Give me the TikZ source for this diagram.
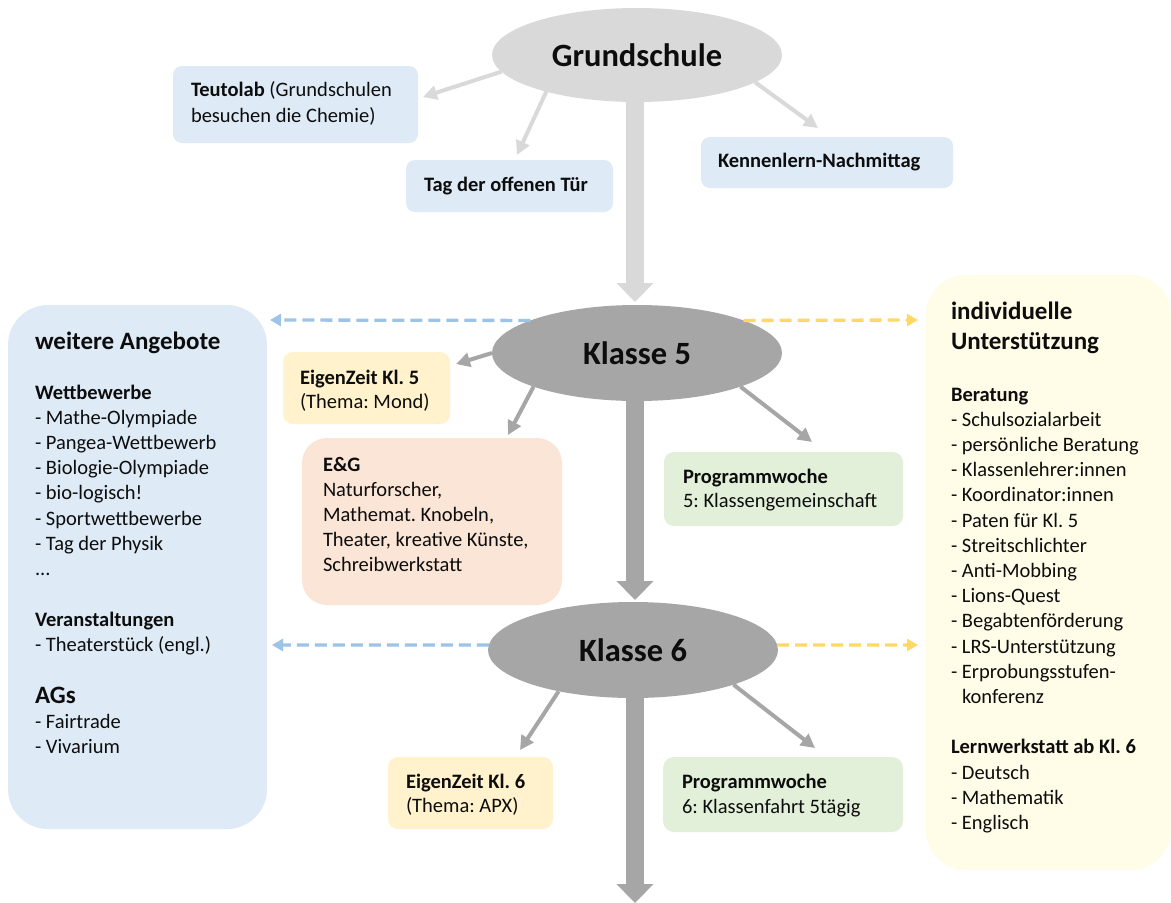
\documentclass[tikz,border=0pt]{standalone}
\usepackage{fontspec}
\setmainfont{Carlito}
\usetikzlibrary{shapes.geometric,arrows.meta,backgrounds}
\definecolor{lgray}{HTML}{D9D9D9}
\definecolor{dgray}{HTML}{A6A6A6}
\definecolor{lblue}{HTML}{DEEBF7}
\definecolor{lyellow}{HTML}{FFF2CC}
\definecolor{lorange}{HTML}{FBE5D6}
\definecolor{lgreen}{HTML}{E2F0D9}
\definecolor{cream}{HTML}{FFFDE8}
\definecolor{dblue}{HTML}{9DC3E6}
\definecolor{dyellow}{HTML}{FFD966}
\definecolor{txt}{HTML}{0D0D0D}
\begin{document}
\frenchspacing
\begin{tikzpicture}[x=1pt,y=-1pt,
  every node/.style={inner sep=0pt,outer sep=0pt,text=txt},
  bubble/.style={ellipse,fill=#1,minimum width=290pt,minimum height=96pt,font=\fontsize{32.5}{38}\selectfont\bfseries},
  card/.style={rectangle,fill=#1},
  ln/.style={anchor=base west,font=\fontsize{20.5}{24}\selectfont},
  lnb/.style={anchor=base west,font=\fontsize{20.5}{24}\selectfont\bfseries},
  hd/.style={anchor=base west,font=\fontsize{25}{29}\selectfont\bfseries},
  thinarrow/.style={draw=#1,line width=4pt,-{Triangle[length=14pt,width=14pt]}},
  dasharrow/.style={draw=#1,line width=3.3pt,dash pattern=on 12pt off 6pt,-{Triangle[length=11pt,width=12pt]}},
  bigarrow/.style={draw=#1,line width=18pt,-{Triangle[length=19pt,width=36pt]}}
]
\useasboundingbox (0,0) rectangle (1171,903);

% ellipses
\node[bubble=lgray,minimum height=94pt] (gs) at (637,55) {Grundschule};
\node[bubble=dgray] (k5) at (637,353) {Klasse 5};
\node[bubble=dgray] (k6) at (633,650) {Klasse 6};

% boxes
\node[card=lblue,rounded corners=9pt,minimum width=245pt,minimum height=77pt] (teuto) at (295.5,104.5) {};
\node[card=lblue,rounded corners=9pt,minimum width=207pt,minimum height=52pt] (tag) at (509.5,186) {};
\node[card=lblue,rounded corners=9pt,minimum width=252pt,minimum height=51pt] (kenn) at (827,162.5) {};
\node[card=lyellow,rounded corners=10pt,minimum width=167pt,minimum height=72pt] (ez5) at (366.5,388) {};
\node[card=lorange,rounded corners=25pt,minimum width=260pt,minimum height=167pt] (eg) at (432,521.5) {};
\node[card=lgreen,rounded corners=10pt,minimum width=239pt,minimum height=74pt] (pw5) at (783.5,489) {};
\node[card=lyellow,rounded corners=10pt,minimum width=165pt,minimum height=72pt] (ez6) at (470.5,793) {};
\node[card=lgreen,rounded corners=11pt,minimum width=240pt,minimum height=75pt] (pw6) at (783,794.5) {};
\node[card=lblue,rounded corners=40pt,minimum width=259pt,minimum height=524pt] (left) at (137.5,567) {};
\node[card=cream,rounded corners=40pt,minimum width=245pt,minimum height=595pt] (right) at (1048.5,572.5) {};

% texts in small boxes
\node[ln] (teutoA) at (191,96) {\textbf{Teutolab} (Grundschulen};
\node[ln] (teutoB) at (191,122) {besuchen die Chemie)};
\node[lnb] (tagA) at (424,191) {Tag der offenen Tür};
\node[lnb] (kennA) at (718,167) {Kennenlern-Nachmittag};
\node[lnb] (ez5A) at (300,384) {EigenZeit Kl. 5};
\node[ln] (ez5B) at (300,408) {(Thema: Mond)};
\node[lnb] (egA) at (323,471) {E\&G};
\node[ln] (eg1) at (323,496.2) {Naturforscher,};
\node[ln] (eg2) at (323,521.4) {Mathemat. Knobeln,};
\node[ln] (eg3) at (323,546.6) {Theater, kreative Künste,};
\node[ln] (eg4) at (323,571.8) {Schreibwerkstatt};
\node[lnb] (pw5A) at (683,483) {Programmwoche};
\node[ln] (pw5B) at (683,507) {5: Klassengemeinschaft};
\node[lnb] (ez6A) at (406,788) {EigenZeit Kl. 6};
\node[ln] (ez6B) at (406,812) {(Thema: APX)};
\node[lnb] (pw6A) at (682,788) {Programmwoche};
\node[ln] (pw6B) at (682,813) {6: Klassenfahrt 5tägig};

% left box text
\node[hd] (wa) at (35,349) {weitere Angebote};
\node[lnb] (wb) at (35,399) {Wettbewerbe};
\node[ln] (wb0) at (35,424.2) {- Mathe-Olympiade};
\node[ln] (wb1) at (35,449.4) {- Pangea-Wettbewerb};
\node[ln] (wb2) at (35,474.6) {- Biologie-Olympiade};
\node[ln] (wb3) at (35,499.8) {- bio-logisch!};
\node[ln] (wb4) at (35,525.0) {- Sportwettbewerbe};
\node[ln] (wb5) at (35,550.2) {- Tag der Physik};
\node[ln] (wb6) at (35,575.4) {...};
\node[lnb] (va) at (35,626) {Veranstaltungen};
\node[ln] (va1) at (35,651.2) {- Theaterstück (engl.)};
\node[hd] (ag) at (35,703) {AGs};
\node[ln] (ag1) at (35,728) {- Fairtrade};
\node[ln] (ag2) at (35,753.2) {- Vivarium};

% right box text
\node[hd] (iu1) at (951,319) {individuelle};
\node[hd] (iu2) at (951,349) {Unterstützung};
\node[lnb] (be) at (951,401) {Beratung};
\node[ln] (be0) at (951,426.2) {- Schulsozialarbeit};
\node[ln] (be1) at (951,451.4) {- persönliche Beratung};
\node[ln] (be2) at (951,476.6) {- Klassenlehrer:innen};
\node[ln] (be3) at (951,501.8) {- Koordinator:innen};
\node[ln] (be4) at (951,527.0) {- Paten für Kl. 5};
\node[ln] (be5) at (951,552.2) {- Streitschlichter};
\node[ln] (be6) at (951,577.4) {- Anti-Mobbing};
\node[ln] (be7) at (951,602.6) {- Lions-Quest};
\node[ln] (be8) at (951,627.8) {- Begabtenförderung};
\node[ln] (be9) at (951,653.0) {- LRS-Unterstützung};
\node[ln] (be10) at (951,678.2) {- Erprobungsstufen-};
\node[ln] (be11) at (962,703.4) {konferenz};
\node[lnb] (lw) at (951,753.8) {Lernwerkstatt ab Kl. 6};
\node[ln] (lw1) at (951,779.0) {- Deutsch};
\node[ln] (lw2) at (951,804.2) {- Mathematik};
\node[ln] (lw3) at (951,829.4) {- Englisch};

% tips
\coordinate (tipTeuto) at (423,97);
\coordinate (tipTag) at (517,155);
\coordinate (tipKenn) at (818,128);
\coordinate (tipEz5) at (456,364);
\coordinate (tipEg) at (508,435);
\coordinate (tipPw5) at (812,442);
\coordinate (tipEz6) at (520,750);
\coordinate (tipPw6) at (815,748);
\coordinate (k5L) at (270,320);
\coordinate (k5R) at (918,320);
\coordinate (k6L) at (272,645);
\coordinate (k6R) at (918,645);
\coordinate (bigA) at (635,302);
\coordinate (bigB) at (635,600);
\coordinate (bigC) at (635,903);

\begin{pgfonlayer}{background}
  \fill[white] (0,0) rectangle (1171,903);
  \draw[bigarrow=lgray] (gs.center -| bigA) -- (bigA);
  \draw[bigarrow=dgray] (k5.center -| bigB) -- (bigB);
  \draw[bigarrow=dgray] (k6.center -| bigC) -- (bigC);
\end{pgfonlayer}

% side arrows
\draw[thinarrow=lgray] (gs.187) -- (tipTeuto);
\draw[thinarrow=lgray] (gs.202) -- (tipTag);
\draw[thinarrow=lgray] (gs.347) -- (tipKenn);
\draw[thinarrow=dgray] (k5.180) -- (tipEz5);
\draw[thinarrow=dgray] (k5.198) -- (tipEg);
\draw[thinarrow=dgray] (k5.342) -- (tipPw5);
\draw[thinarrow=dgray] (k6.209) -- (tipEz6);
\draw[thinarrow=dgray] (k6.341) -- (tipPw6);

% dashed arrows
\draw[dasharrow=dblue] (k5.163) -- (k5L);
\draw[dasharrow=dyellow] (k5.17) -- (k5R);
\draw[dasharrow=dblue] (k6.178) -- (k6L);
\draw[dasharrow=dyellow] (k6.2) -- (k6R);
\end{tikzpicture}
\end{document}
